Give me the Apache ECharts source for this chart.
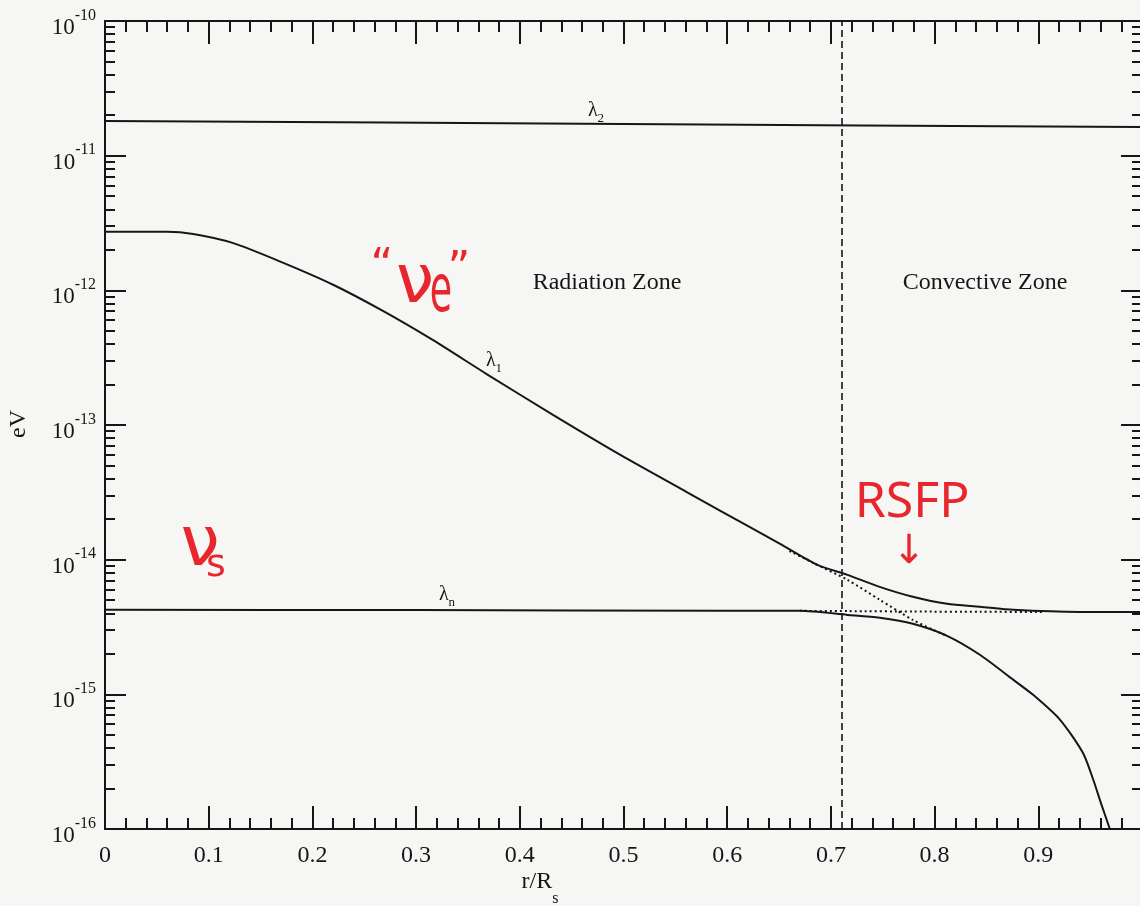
<!DOCTYPE html>
<html><head><meta charset="utf-8">
<script src="https://cdn.jsdelivr.net/npm/echarts@6/dist/echarts.min.js"></script>
<style>html,body{margin:0;padding:0;background:#f6f6f4}#c{width:1140px;height:906px}</style>
</head><body><div id="c"></div>
<script>
// ---- data (r/R_s , eV) ----
const lambda2R = [0, 0.5, 1.0];
const lambda2V = [1.81e-11, 1.72e-11, 1.63e-11];

const lambda1R = [0, 0.060, 0.085, 0.123, 0.172, 0.220, 0.268, 0.316, 0.368, 0.432, 0.497, 0.561, 0.625, 0.651, 0.687, 0.716, 0.747, 0.779, 0.812, 0.844, 0.876, 0.940, 1.0];
const lambda1V = [2.72e-12, 2.72e-12, 2.62e-12, 2.25e-12, 1.60e-12, 1.10e-12, 7.03e-13, 4.28e-13, 2.39e-13, 1.19e-13, 6.00e-14, 3.18e-14, 1.69e-14, 1.31e-14, 9.14e-15, 7.71e-15, 6.28e-15, 5.30e-15, 4.70e-15, 4.47e-15, 4.24e-15, 4.09e-15, 4.09e-15];

const lambdaNR = [0, 0.3, 0.6, 0.670, 0.716, 0.747, 0.779, 0.812, 0.844, 0.876, 0.895, 0.921, 0.943, 0.953, 0.961, 0.969];
const lambdaNV = [4.24e-15, 4.22e-15, 4.17e-15, 4.17e-15, 3.89e-15, 3.70e-15, 3.34e-15, 2.72e-15, 1.96e-15, 1.28e-15, 9.91e-16, 6.47e-16, 3.68e-16, 2.32e-16, 1.51e-16, 1.0e-16];

// unmixed continuations (dotted)
const dotted1R = [0.660, 0.683, 0.716, 0.747, 0.779, 0.805, 0.812];
const dotted1V = [1.16e-14, 9.46e-15, 7.08e-15, 5.04e-15, 3.57e-15, 2.86e-15, 2.72e-15];
const dottedNR = [0.670, 0.716, 0.779, 0.844, 0.905];
const dottedNV = [4.17e-15, 4.15e-15, 4.12e-15, 4.10e-15, 4.09e-15];

const boundaryR = 0.715;
const yTickExponents = [-16, -15, -14, -13, -12, -11, -10];

// ---- build ----
const zip = (a, b) => a.map((v, i) => [v, b[i]]);
const majorVals = yTickExponents.map(e => Math.pow(10, e));
const minorVals = [];
for (let i = 0; i < yTickExponents.length - 1; i++) {
  for (let m = 2; m <= 9; m++) minorVals.push(m * Math.pow(10, yTickExponents[i]));
}
const INK = '#161616';
const RED = '#e8262d';
const SERIF = '"Liberation Serif", "DejaVu Serif", serif';
const YMIN = majorVals[0], YMAX = majorVals[majorVals.length - 1];

const lineBase = { type: 'line', showSymbol: false, symbol: 'none', smooth: 0.25, silent: true, xAxisIndex: 0, yAxisIndex: 0 };

function yAxisDef(position, ticks, len, showLabel) {
  return {
    type: 'log', logBase: 10, min: YMIN, max: YMAX, position: position,
    axisLine: { show: true, lineStyle: { color: INK, width: 2 } },
    splitLine: { show: false },
    axisTick: { show: true, inside: true, length: len, customValues: ticks, lineStyle: { color: INK, width: 2 } },
    axisLabel: showLabel ? {
      show: true, margin: 9, customValues: majorVals,
      formatter: v => '{b|10}{s|' + Math.round(Math.log10(v)) + '}',
      rich: {
        b: { fontFamily: SERIF, fontSize: 23, height: 24, lineHeight: 38, color: INK, verticalAlign: 'bottom' },
        s: { fontFamily: SERIF, fontSize: 16, height: 27, lineHeight: 27, color: INK, verticalAlign: 'top' }
      }
    } : { show: false }
  };
}
function xAxisDef(position, showLabel) {
  return {
    type: 'value', min: 0, max: 1, interval: 0.1, position: position,
    axisLine: { show: true, lineStyle: { color: INK, width: 2 } },
    splitLine: { show: false },
    axisTick: { show: true, inside: true, length: 23, lineStyle: { color: INK, width: 2 } },
    minorTick: { show: true, splitNumber: 5, length: 11, lineStyle: { color: INK, width: 2 } },
    axisLabel: showLabel ? {
      show: true, margin: 15, fontFamily: SERIF, fontSize: 24, color: INK,
      formatter: v => (v >= 1 ? '' : String(+v.toFixed(1)))
    } : { show: false }
  };
}
function lam(x, y, sub) {
  return { type: 'text', x: x, y: y, style: { text: '{l|λ}{s|' + sub + '}', align: 'center', verticalAlign: 'middle',
    rich: { l: { fontFamily: SERIF, fontSize: 20, height: 20, lineHeight: 20, fill: INK, verticalAlign: 'top' },
            s: { fontFamily: SERIF, fontSize: 13, height: 13, lineHeight: 24, fill: INK, verticalAlign: 'bottom' } } } };
}
function red(x, y, txt, size, sx, font) {
  return { type: 'text', x: x, y: y, scaleX: sx || 1, style: { text: txt, font: size + 'px ' + (font || '"DejaVu Sans"'), fill: RED, align: 'center', verticalAlign: 'middle' } };
}

const chart = echarts.init(document.getElementById('c'), null, { renderer: 'canvas' });
chart.setOption({
  backgroundColor: '#f6f6f4',
  animation: false,
  grid: { left: 105, top: 21, width: 1037, height: 808, containLabel: false, outerBoundsMode: 'none' },
  xAxis: [xAxisDef('bottom', true), xAxisDef('top', false)],
  yAxis: [
    yAxisDef('left', majorVals, 21, true),
    yAxisDef('left', minorVals, 10, false),
    yAxisDef('right', majorVals, 21, false),
    yAxisDef('right', minorVals, 10, false)
  ],
  series: [
    Object.assign({}, lineBase, { name: 'lambda2', data: zip(lambda2R, lambda2V), lineStyle: { color: INK, width: 2 },
      markLine: { silent: true, symbol: 'none', label: { show: false },
        lineStyle: { color: INK, width: 1.6, type: [7, 4] }, data: [{ xAxis: boundaryR }] } }),
    Object.assign({}, lineBase, { name: 'lambda1', data: zip(lambda1R, lambda1V), lineStyle: { color: INK, width: 2 } }),
    Object.assign({}, lineBase, { name: 'lambdaN', data: zip(lambdaNR, lambdaNV), lineStyle: { color: INK, width: 2 } }),
    Object.assign({}, lineBase, { name: 'lambda1-unmixed', data: zip(dotted1R, dotted1V), lineStyle: { color: INK, width: 2, type: [2, 3] } }),
    Object.assign({}, lineBase, { name: 'lambdaN-unmixed', data: zip(dottedNR, dottedNV), lineStyle: { color: INK, width: 2, type: [2, 3] } })
  ],
  graphic: [
    { type: 'text', x: 607, y: 283, style: { text: 'Radiation Zone', font: '24px ' + SERIF, fill: INK, align: 'center', verticalAlign: 'middle' } },
    { type: 'text', x: 985, y: 283, style: { text: 'Convective Zone', font: '24px ' + SERIF, fill: INK, align: 'center', verticalAlign: 'middle' } },
    lam(596, 113, '2'),
    lam(494, 363, '1'),
    lam(447, 597, 'n'),
    { type: 'text', x: 19, y: 424, rotation: Math.PI / 2, style: { text: 'eV', font: '24px ' + SERIF, fill: INK, align: 'center', verticalAlign: 'middle' } },
    { type: 'text', x: 540, y: 888, style: { text: '{a|r/R}{s|s}', align: 'center', verticalAlign: 'middle',
      rich: { a: { fontFamily: SERIF, fontSize: 24, height: 24, lineHeight: 24, fill: INK, verticalAlign: 'top' },
              s: { fontFamily: SERIF, fontSize: 16, height: 16, lineHeight: 37, fill: INK, verticalAlign: 'bottom' } } } },
    red(382, 269, '“', 44),
    red(415, 284, 'ν', 68),
    red(441, 294, 'e', 66, 0.55),
    red(459, 272, '”', 44),
    red(200, 547, 'ν', 70),
    red(216, 566, 's', 38),
    red(912, 503, 'RSFP', 50, 1, '"Noto Sans"'),
    red(909, 553, '↓', 40, 1)
  ]
});
</script>
</body></html>
